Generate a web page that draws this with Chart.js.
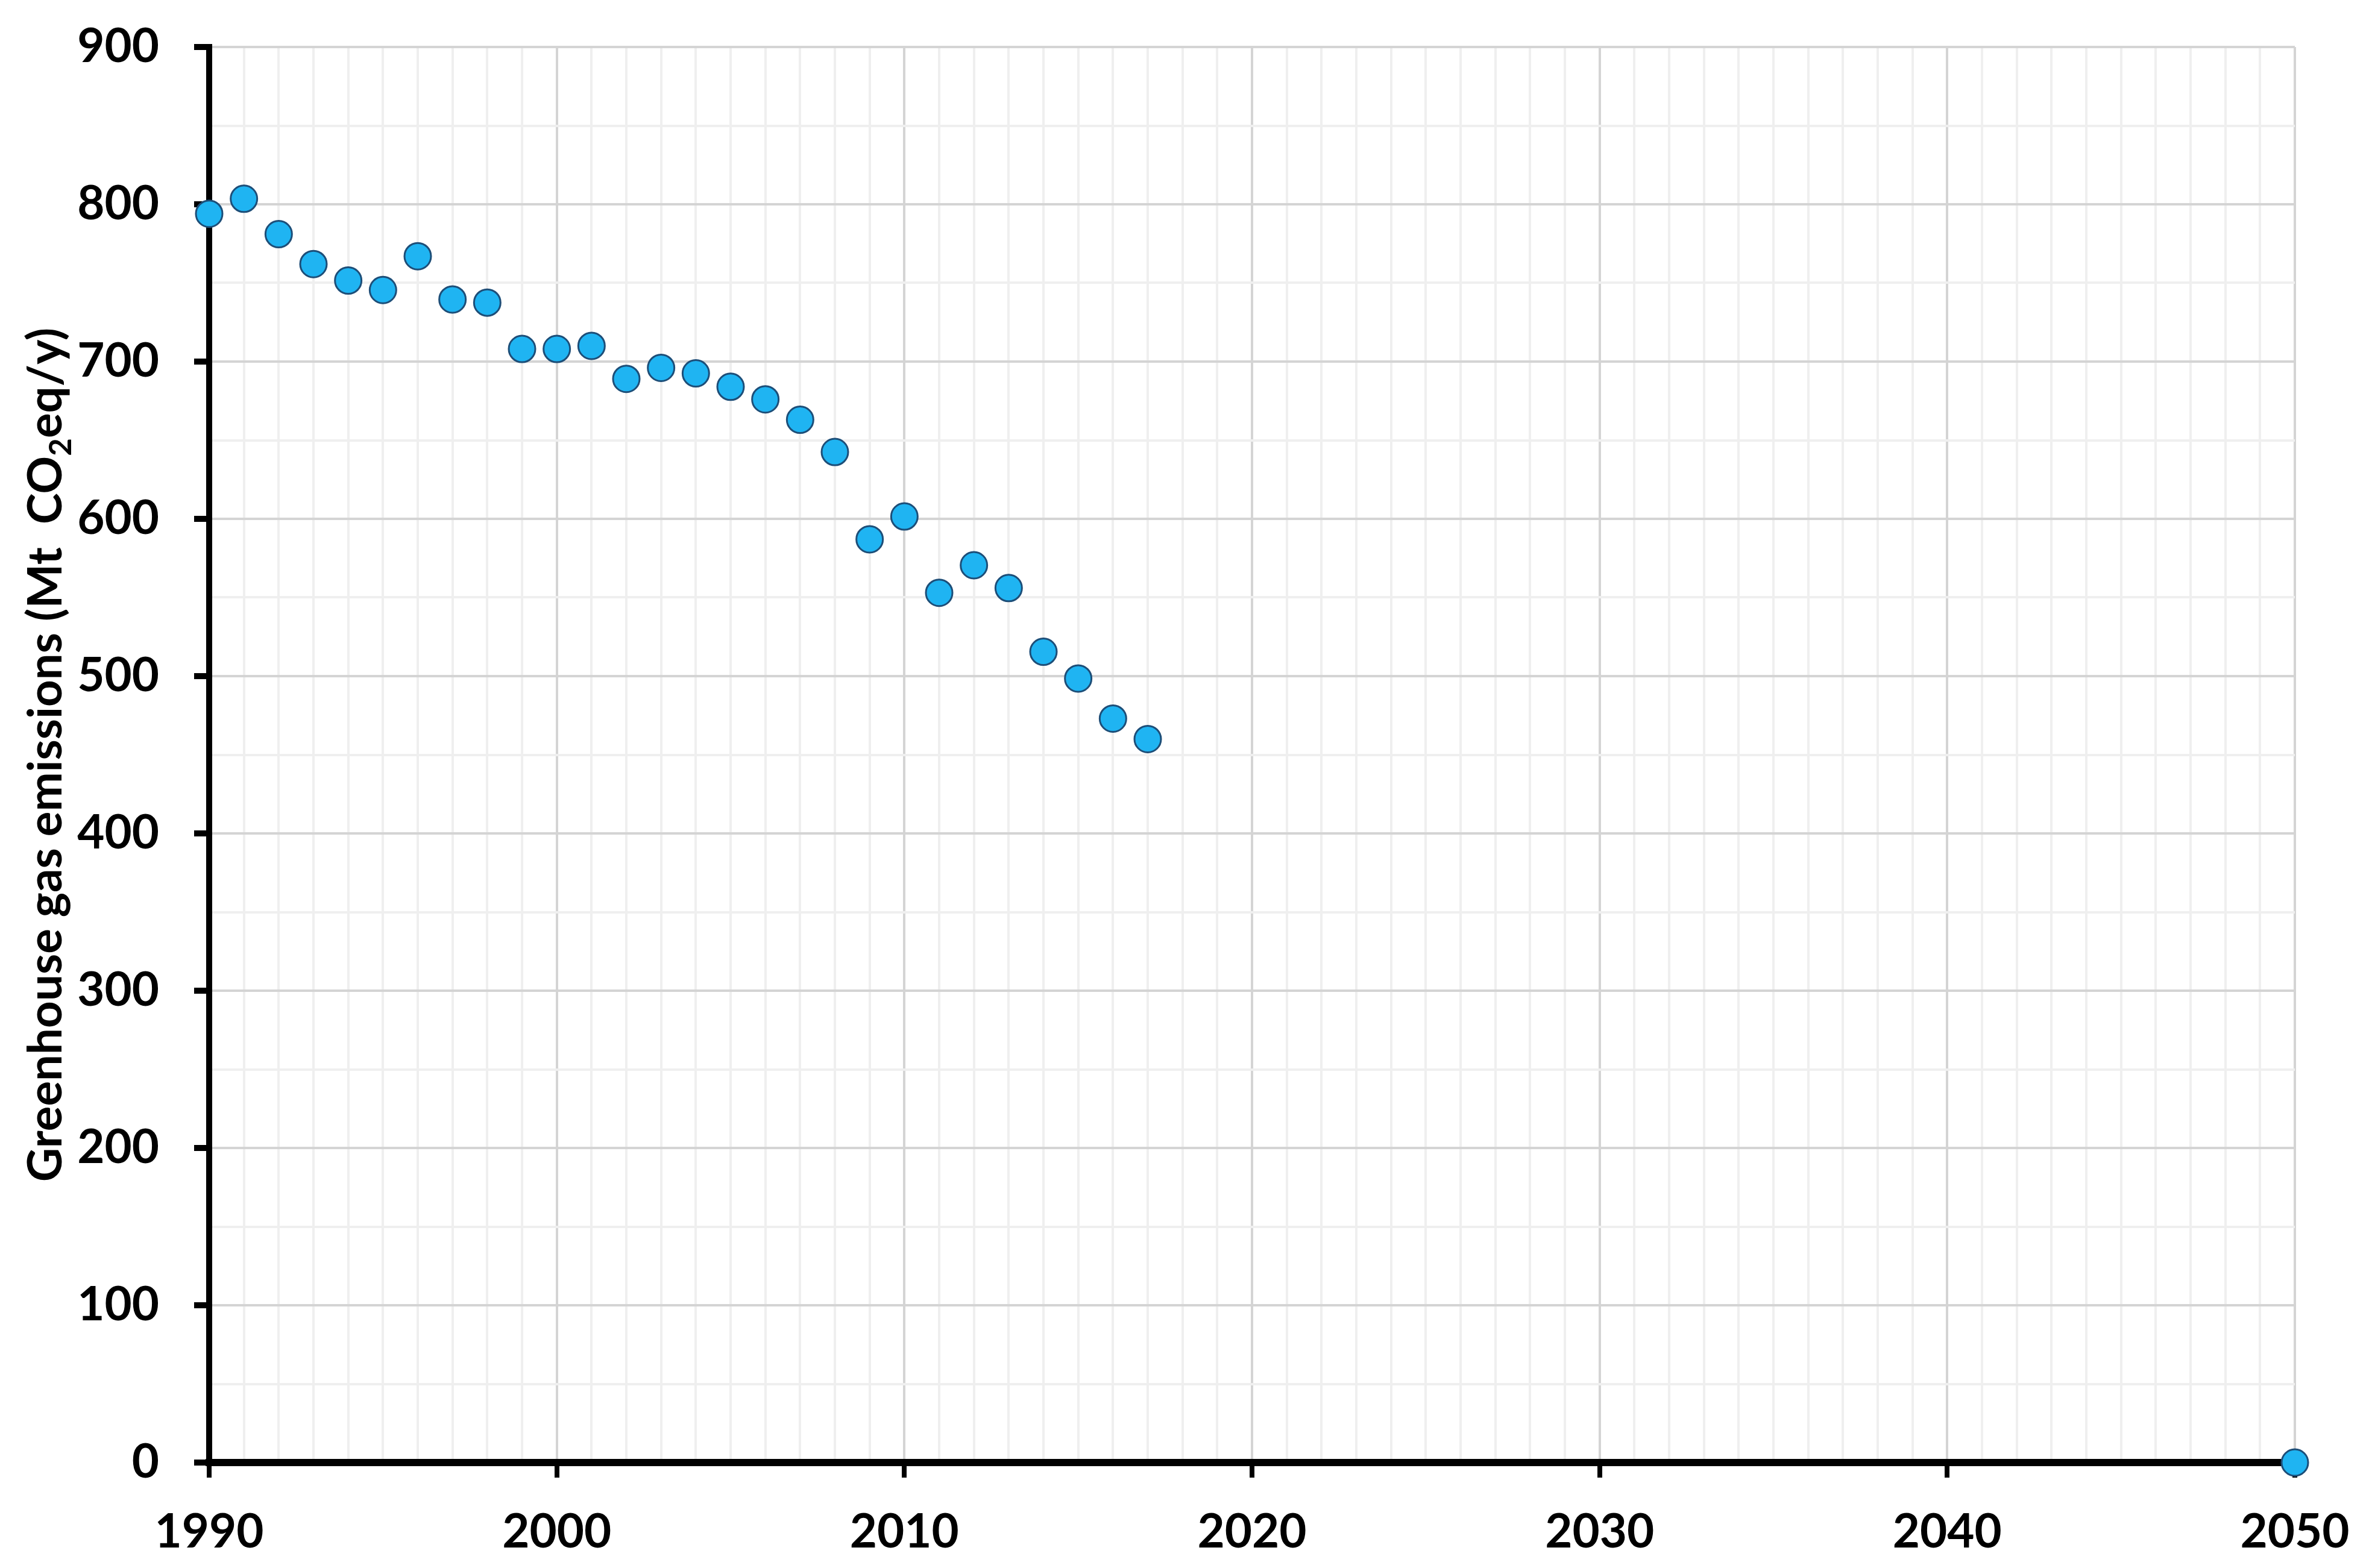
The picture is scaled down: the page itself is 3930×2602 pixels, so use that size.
<!DOCTYPE html>
<html>
<head>
<meta charset="utf-8">
<script src="https://cdn.jsdelivr.net/npm/chart.js@4.4.1/dist/chart.umd.min.js"></script>
<style>
  html, body { margin: 0; padding: 0; background: #ffffff; }
  #wrap { width: 3930px; height: 2602px; position: relative; }
</style>
</head>
<body>
<div id="wrap"><canvas id="c" width="3930" height="2602"></canvas></div>
<script>
// ---- Data ----
const years = [1990, 1991, 1992, 1993, 1994, 1995, 1996, 1997, 1998, 1999,
               2000, 2001, 2002, 2003, 2004, 2005, 2006, 2007, 2008, 2009,
               2010, 2011, 2012, 2013, 2014, 2015, 2016, 2017, 2050];
const emissions = [794, 803.5, 781, 762, 751.5, 745.5, 767, 739.5, 737.5, 708,
                   708, 710, 689, 696, 692.5, 684, 676, 663, 642.5, 587,
                   601.5, 553, 570.5, 556, 515.5, 498.5, 473, 460, 0];
const xTickLabels = ['1990', '2000', '2010', '2020', '2030', '2040', '2050'];
const yTickLabels = ['0', '100', '200', '300', '400', '500', '600', '700', '800', '900'];
const yTitleParts = ['Greenhouse gas emissions (Mt  CO', '2', 'eq/y)'];

// ---- Styles ----
const FONT = 'Lato, "Open Sans", "DejaVu Sans", sans-serif';
const MAJOR_GRID = '#d4d4d4';
const MINOR_GRID = '#efefef';

const yTitlePlugin = {
  id: 'yTitle',
  afterDraw(chart) {
    const ctx = chart.ctx;
    const area = chart.chartArea;
    const cy = (area.top + area.bottom) / 2;
    const size = 78;
    const mainFont = `bold ${size}px ${FONT}`;
    const subFont = `bold ${Math.round(size * 0.66)}px ${FONT}`;
    ctx.save();
    ctx.translate(74, cy);
    ctx.rotate(-Math.PI / 2);
    ctx.fillStyle = '#000';
    ctx.textBaseline = 'alphabetic';
    ctx.textAlign = 'left';
    const fonts = [mainFont, subFont, mainFont];
    const shifts = [0, size * 0.2, 0];
    let total = 0;
    const widths = yTitleParts.map((t, i) => { ctx.font = fonts[i]; const w = ctx.measureText(t).width; total += w; return w; });
    let x = -total / 2;
    const base = size * 0.36;
    yTitleParts.forEach((t, i) => {
      ctx.font = fonts[i];
      ctx.fillText(t, x, base + shifts[i]);
      x += widths[i];
    });
    ctx.restore();
  }
};

function zeroPadding(scale) {
  scale.paddingTop = 0;
  scale.paddingBottom = 0;
  scale.paddingLeft = 0;
  scale.paddingRight = 0;
}

new Chart(document.getElementById('c'), {
  type: 'scatter',
  data: {
    datasets: [{
      data: years.map((y, i) => ({ x: y, y: emissions[i] })),
      pointRadius: 22,
      pointHoverRadius: 22,
      pointBackgroundColor: '#1fb4f2',
      pointBorderColor: '#1d4e78',
      pointBorderWidth: 3,
      showLine: false,
      clip: false
    }]
  },
  options: {
    responsive: false,
    animation: false,
    devicePixelRatio: 1,
    layout: { autoPadding: false, padding: { top: 78, right: 123, left: 0, bottom: 0 } },
    plugins: { legend: { display: false }, tooltip: { enabled: false } },
    scales: {
      x: {
        type: 'linear',
        min: 1990,
        max: 2050,
        afterFit(scale) { scale.height = 175; zeroPadding(scale); },
        ticks: {
          stepSize: 1,
          autoSkip: false,
          maxTicksLimit: 1000,
          maxRotation: 0,
          padding: 44,
          color: '#000',
          font: { family: FONT, size: 78, weight: 'bold' },
          callback: (v) => xTickLabels.includes(String(v)) ? String(v) : ''
        },
        grid: {
          color: (c) => (c.tick && c.tick.value % 10 === 0) ? MAJOR_GRID : MINOR_GRID,
          lineWidth: 4,
          tickColor: (c) => (c.tick && c.tick.value % 10 === 0) ? '#000' : 'rgba(0,0,0,0)',
          tickLength: 25,
          tickWidth: 8
        },
        border: { color: '#000', width: 12 }
      },
      y: {
        min: 0,
        max: 900,
        afterFit(scale) { scale.width = 347; zeroPadding(scale); },
        ticks: {
          stepSize: 50,
          autoSkip: false,
          maxTicksLimit: 1000,
          padding: 58,
          color: '#000',
          font: { family: FONT, size: 78, weight: 'bold' },
          callback: (v) => yTickLabels.includes(String(v)) ? String(v) : ''
        },
        grid: {
          color: (c) => (c.tick && c.tick.value % 100 === 0) ? MAJOR_GRID : MINOR_GRID,
          lineWidth: 4,
          tickColor: (c) => (c.tick && c.tick.value % 100 === 0) ? '#000' : 'rgba(0,0,0,0)',
          tickLength: 25,
          tickWidth: 10
        },
        border: { color: '#000', width: 10 }
      }
    }
  },
  plugins: [yTitlePlugin]
});
</script>
</body>
</html>
